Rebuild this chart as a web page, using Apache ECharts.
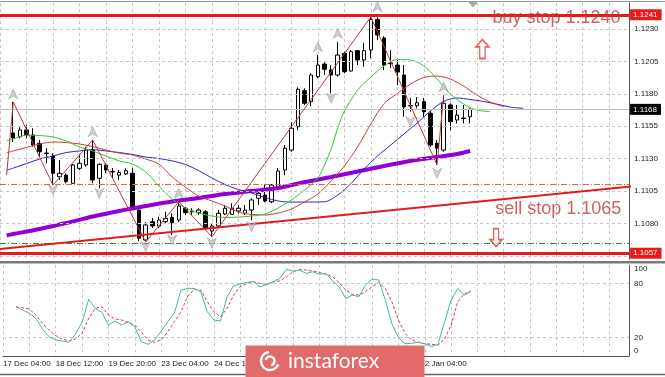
<!DOCTYPE html>
<html><head><meta charset="utf-8">
<script src="https://cdn.jsdelivr.net/npm/echarts@6/dist/echarts.min.js"></script>
<style>html,body{margin:0;padding:0;background:#fff}#c{width:665px;height:377px}</style>
</head><body><div id="c"></div>
<script>
// ---- data (bar index k = 0 is the first visible H4 candle) ----
const barOffset = 2; // x axis starts two bars before the first candle
const timeLabels = ['17 Dec 04:00','18 Dec 12:00','19 Dec 20:00','23 Dec 04:00','24 Dec 12:00','26 Dec 04:00','27 Dec 12:00','30 Dec 20:00','2 Jan 04:00'];
const priceTickStart = 1.1055, priceTickStep = 0.0025;
// [open, close, low, high]
const candles = [
[1.11498,1.11459,1.11428,1.11737],[1.11469,1.11521,1.11457,1.11542],[1.11521,1.11482,1.11457,1.11559],
[1.11482,1.11405,1.11392,1.11534],[1.11418,1.11353,1.11315,1.11444],[1.11343,1.11339,1.11264,1.11380],
[1.11320,1.11187,1.11096,1.11341],[1.11160,1.11187,1.11135,1.11289],[1.11173,1.11122,1.11109,1.11187],
[1.11109,1.11251,1.11108,1.11258],[1.11225,1.11264,1.11212,1.11328],[1.11251,1.11366,1.11238,1.11392],
[1.11366,1.11135,1.11109,1.11444],[1.11148,1.11256,1.11071,1.11264],[1.11251,1.11212,1.11187,1.11266],
[1.11200,1.11197,1.11148,1.11227],[1.11173,1.11194,1.11135,1.11212],[1.11181,1.11207,1.11173,1.11225],
[1.11187,1.10917,1.10903,1.11227],[1.10903,1.10685,1.10664,1.10919],[1.10672,1.10788,1.10657,1.10811],
[1.10813,1.10780,1.10765,1.10842],[1.10780,1.10826,1.10762,1.10852],[1.10813,1.10839,1.10801,1.10890],
[1.10847,1.10805,1.10711,1.10878],[1.10826,1.10934,1.10811,1.10967],[1.10917,1.10883,1.10865,1.10929],
[1.10890,1.10896,1.10865,1.10917],[1.10883,1.10903,1.10865,1.10917],[1.10890,1.10762,1.10749,1.10903],
[1.10741,1.10780,1.10697,1.10795],[1.10780,1.10878,1.10765,1.10903],[1.10873,1.10917,1.10865,1.10942],
[1.10870,1.10917,1.10865,1.10955],[1.10896,1.10917,1.10878,1.10942],[1.10878,1.10903,1.10865,1.10942],
[1.10903,1.10981,1.10826,1.10994],[1.10994,1.11032,1.10942,1.11058],[1.11019,1.10973,1.10963,1.11096],
[1.10967,1.11096,1.10957,1.11104],[1.11083,1.11204,1.11058,1.11227],[1.11212,1.11380,1.11173,1.11405],
[1.11366,1.11534,1.11353,1.11582],[1.11546,1.11835,1.11521,1.11850],[1.11824,1.11727,1.11714,1.11842],
[1.11739,1.11945,1.11706,1.11958],[1.11932,1.12022,1.11920,1.12099],[1.12030,1.11989,1.11945,1.12048],
[1.11984,1.11945,1.11804,1.12022],[1.11945,1.12099,1.11932,1.12202],[1.12112,1.11971,1.11958,1.12125],
[1.11976,1.12125,1.11971,1.12138],[1.12133,1.12061,1.12022,1.12138],[1.12061,1.12133,1.12009,1.12192],
[1.12138,1.12373,1.12074,1.12393],[1.12373,1.12254,1.12215,1.12389],[1.12231,1.12022,1.11984,1.12244],
[1.12038,1.12033,1.11999,1.12138],[1.12022,1.11968,1.11868,1.12061],[1.11945,1.11698,1.11623,1.12022],
[1.11706,1.11710,1.11662,1.11768],[1.11708,1.11731,1.11688,1.11775],[1.11739,1.11662,1.11623,1.11768],
[1.11650,1.11405,1.11390,1.11667],[1.11418,1.11380,1.11251,1.11444],[1.11366,1.11727,1.11353,1.11791],
[1.11714,1.11585,1.11521,1.11727],[1.11598,1.11636,1.11572,1.11714],[1.11613,1.11609,1.11572,1.11714],
[1.11623,1.11680,1.11572,1.11688]
];
// Alligator lines [bar, price]
const lips = [[-1,1.11440],[0,1.11451],[2,1.11482],[4,1.11478],[6,1.11467],[8,1.11436],[10,1.11390],[12,1.11359],[14,1.11320],[16,1.11282],[18,1.11258],[20,1.11197],[22,1.11089],[24,1.10988],[26,1.10919],[28,1.10880],[30,1.10857],[32,1.10846],[34,1.10849],[36,1.10857],[38,1.10873],[40,1.10919],[42,1.10981],[44,1.11058],[46,1.11150],[47,1.11251],[48,1.11374],[49,1.11536],[50,1.11667],[51,1.11752],[52,1.11829],[54,1.11930],[56,1.12015],[58,1.12065],[60,1.12061],[62,1.12015],[64,1.11914],[66,1.11798],[68,1.11721],[70,1.11675],[72,1.11663]];
const teeth = [[-1,1.11345],[0,1.11359],[2,1.11386],[4,1.11413],[6,1.11428],[8,1.11424],[10,1.11413],[12,1.11393],[14,1.11366],[16,1.11343],[18,1.11328],[20,1.11297],[22,1.11258],[24,1.11158],[26,1.11081],[28,1.11011],[30,1.10973],[32,1.10934],[34,1.10888],[36,1.10869],[38,1.10865],[40,1.10880],[42,1.10911],[44,1.10965],[46,1.11027],[48,1.11127],[50,1.11243],[52,1.11390],[54,1.11567],[56,1.11725],[58,1.11802],[60,1.11876],[62,1.11926],[64,1.11937],[66,1.11914],[68,1.11860],[70,1.11791],[72,1.11737],[74,1.11702]];
const jaw = [[-1,1.11210],[0,1.11227],[2,1.11262],[4,1.11297],[6,1.11320],[8,1.11347],[10,1.11359],[12,1.11370],[14,1.11359],[16,1.11347],[18,1.11332],[20,1.11312],[22,1.11301],[24,1.11282],[26,1.11255],[28,1.11208],[30,1.11150],[32,1.11100],[34,1.11062],[36,1.11035],[38,1.11000],[40,1.10973],[42,1.10965],[44,1.10965],[47,1.10967],[49,1.11019],[51,1.11108],[53,1.11220],[55,1.11320],[57,1.11405],[59,1.11490],[61,1.11575],[63,1.11667],[65,1.11741],[67,1.11768],[69,1.11756],[71,1.11741],[73,1.11721],[75,1.11698],[77,1.11688]];
const slowMA = [[-1,1.10708],[0,1.10718],[4,1.10757],[8,1.10803],[12,1.10853],[16,1.10896],[20,1.10934],[24,1.10969],[28,1.10996],[32,1.11027],[36,1.11050],[40,1.11073],[44,1.11119],[48,1.11158],[52,1.11200],[56,1.11243],[60,1.11282],[64,1.11312],[67,1.11335],[69,1.11359]];
const zigzag = [[-1,1.11173],[0,1.11737],[6,1.11096],[12,1.11444],[20,1.10657],[25,1.10967],[30,1.10697],[54,1.12393],[64,1.11251],[65,1.11791]];
const trendLine = [[-3,1.10597],[96,1.11099]];
const fractalUp = [[0,1.11798],[12,1.11508],[25,1.11032],[46,1.12163],[49,1.12267],[55,1.12472],[65,1.11855]];
const fractalDown = [[6,1.11058],[13,1.11032],[20,1.10620],[24,1.10672],[30,1.10649],[36,1.10775],[48,1.11765],[60,1.11585],[64,1.11187]];
// horizontal levels
const gridPrices = [1.1055,1.1080,1.1105,1.1130,1.1155,1.1180,1.1205,1.1230];
const buyStopLevel = 1.1241, sellLevel = 1.1057, bidPrice = 1.1168, orangeLevel = 1.1110, greenLevel = 1.1065;
// annotations [bar, price, text]
const notes = [[72.3,1.12381,'buy stop 1.1240'],[72.7,1.10911,'sell stop 1.1065']];
const upArrows = [[70.85,1.12146]];
const downArrows = [[72.92,1.10691]];
// Stochastic
const stochK = [54,50.5,46.9,41.3,29.5,21,17.4,16.3,14.9,24,37,62.3,52.4,48,34,38.4,34,37.6,32,15.5,12.7,17.4,27.3,37.6,46.9,72.5,74.4,74.4,70.7,48.6,39.5,38.4,65,77.3,79.5,81,82,76,78.8,81.7,85.4,95.7,93.5,94.6,91,92.7,90,91,82.8,76,63.4,67,65.2,78,84.7,83.6,61.9,35.8,20,13.3,13.8,14.9,13.3,10,12.7,37.6,61.5,74.4,67,71];
const stochD = [54,53,51.6,45,35.8,28.4,22.2,18.5,16.3,18.5,24.8,41.3,52.4,54.2,45,40.6,39.5,36.9,34,25.9,17.4,14.9,17.4,26.6,37.6,48.6,65.2,73.3,72.5,59.7,48.6,43,52.4,67,76.2,79.9,81.7,79.9,78.8,81.7,82.5,87.3,92.7,95.3,94.6,93.5,92,89.9,87.3,81,72.5,67.7,67,70.7,76.2,81,74.4,59.7,39.5,24.8,17.4,14.9,13.4,12.7,12,18.5,34,59.7,68.2,71.7];
const stochLevels = [20, 80];

// ---- build ----
const FONT = 'Liberation Sans, Arial, sans-serif';
const sx = a => a.map(([k,p]) => [k + barOffset, p]);
const gridDash = {color:'#c6c6c6', type:[3,3], width:1};
const tag = (txt, bg) => ({show:true, position:'end', distance:1, formatter:txt, color:'#fff', backgroundColor:bg,
  padding:[1,4,1,3], fontSize:8, lineHeight:9, fontFamily:FONT});
const upPath = 'path://M5,0 L10,10 L5,7 L0,10 Z';
const downPath = 'path://M0,0 L5,3 L10,0 L5,10 Z';
const bigUp = 'path://M6,0 L12,7 L8.5,7 L8.5,18 L3.5,18 L3.5,7 L0,7 Z';
const bigDown = 'path://M3.5,0 L8.5,0 L8.5,11 L12,11 L6,18 L0,11 L3.5,11 Z';

const chart = echarts.init(document.getElementById('c'), null, {renderer:'canvas'});
const gl = -10.26, gr = 35.9;
const option = {
  animation:false,
  backgroundColor:'#ffffff',
  textStyle:{fontFamily:FONT},
  grid:[
    {left:gl, right:gr, top:3.1, height:259.2},
    {left:gl, right:gr, top:265.2, height:90.6}
  ],
  xAxis:[
    {type:'value', gridIndex:0, min:0, max:95, interval:4,
     axisLine:{show:false, onZero:false}, axisTick:{show:false}, axisLabel:{show:false},
     splitLine:{show:true, lineStyle:gridDash}},
    {type:'value', gridIndex:1, min:0, max:95, interval:4,
     axisLine:{show:true, onZero:false, lineStyle:{color:'#555', width:1}}, axisTick:{show:false},
     axisLabel:{show:true, align:'left', margin:4, fontSize:8, color:'#222', fontFamily:FONT,
       formatter:v => { const i = Math.round(v); return (i % 8 === 0 && i/8 < timeLabels.length) ? timeLabels[i/8] : ''; }},
     splitLine:{show:true, lineStyle:gridDash}}
  ],
  yAxis:[
    {type:'value', gridIndex:0, position:'right', min:1.1050, max:1.1250, interval:0.0005,
     axisLine:{show:true, onZero:false, lineStyle:{color:'#555', width:1}}, axisTick:{show:false}, splitLine:{show:false},
     axisLabel:{margin:5, fontSize:8, color:'#222', fontFamily:FONT,
       formatter:v => { const n = (v - priceTickStart)/priceTickStep; return (v > priceTickStart - 1e-5 && Math.abs(n - Math.round(n)) < 1e-3) ? v.toFixed(4) : ''; }}},
    {type:'value', gridIndex:1, position:'right', min:0, max:100, interval:10,
     axisLine:{show:true, onZero:false, lineStyle:{color:'#555', width:1}}, axisTick:{show:false}, splitLine:{show:false},
     axisLabel:{margin:5, fontSize:8, color:'#222', fontFamily:FONT,
       formatter:v => v === 100 ? '{t|100}' : v === 0 ? '{b|0}' : (v === 20 || v === 80) ? String(v) : '',
       rich:{t:{padding:[8,0,0,0], fontSize:8, color:'#222', fontFamily:FONT}, b:{padding:[0,0,10,0], fontSize:8, color:'#222', fontFamily:FONT}}}}
  ],
  series:[
    {type:'line', xAxisIndex:0, yAxisIndex:0, data:[], clip:false, silent:true, z:1,
     markLine:{silent:true, symbol:['none','none'], animation:false, precision:5, data:[
       ...gridPrices.map(p => ({yAxis:p, lineStyle:gridDash, label:{show:false}})),
       {yAxis:bidPrice, lineStyle:{color:'#c0c0c0', type:'solid', width:1}, label:tag('1.1168','#000000')},
       {yAxis:orangeLevel, lineStyle:{color:'#e8643c', type:[6,2,1,2], width:1}, label:{show:false}},
       {yAxis:greenLevel, lineStyle:{color:'#2e8f2e', type:[6,2,1,2], width:1}, label:{show:false}},
       {yAxis:buyStopLevel, lineStyle:{color:'#e8191b', type:'solid', width:3}, label:tag('1.1241','#e8191b')},
       {yAxis:sellLevel, lineStyle:{color:'#e8191b', type:'solid', width:3}, label:tag('1.1057','#e8191b')}
     ]}},
    {type:'candlestick', xAxisIndex:0, yAxisIndex:0, z:3, barWidth:4,
     data:candles.map((c,i) => [i + barOffset, c[0], c[1], c[2], c[3]]),
     itemStyle:{color:'#ffffff', color0:'#000000', borderColor:'#000000', borderColor0:'#000000', borderColorDoji:'#000000', borderWidth:1}},
    {type:'line', xAxisIndex:0, yAxisIndex:0, z:4, data:sx(slowMA), symbol:'none', smooth:0.3, lineStyle:{color:'#9400d3', width:4}},
    {type:'line', xAxisIndex:0, yAxisIndex:0, z:4, data:sx(jaw), symbol:'none', smooth:0.3, lineStyle:{color:'#2828c0', width:1}},
    {type:'line', xAxisIndex:0, yAxisIndex:0, z:4, data:sx(teeth), symbol:'none', smooth:0.3, lineStyle:{color:'#d03c3c', width:1}},
    {type:'line', xAxisIndex:0, yAxisIndex:0, z:4, data:sx(lips), symbol:'none', smooth:0.3, lineStyle:{color:'#2ec82e', width:1}},
    {type:'line', xAxisIndex:0, yAxisIndex:0, z:5, data:sx(zigzag), symbol:'none', lineStyle:{color:'#b83c3c', width:1}},
    {type:'line', xAxisIndex:0, yAxisIndex:0, z:5, data:sx(trendLine), symbol:'none', lineStyle:{color:'#e8191b', width:2}},
    {type:'scatter', xAxisIndex:0, yAxisIndex:0, z:6, data:sx(fractalUp), symbol:upPath, symbolSize:[9,10],
     itemStyle:{color:'#c4c4c4', borderColor:'#8c8c8c', borderWidth:0.6}},
    {type:'scatter', xAxisIndex:0, yAxisIndex:0, z:6, data:sx(fractalDown), symbol:downPath, symbolSize:[9,10],
     itemStyle:{color:'#c4c4c4', borderColor:'#8c8c8c', borderWidth:0.6}},
    {type:'scatter', xAxisIndex:0, yAxisIndex:0, z:7, data:sx(upArrows), symbol:bigUp, symbolSize:[13,19],
     itemStyle:{color:'#ffffff', borderColor:'#e8352d', borderWidth:1.5}},
    {type:'scatter', xAxisIndex:0, yAxisIndex:0, z:7, data:sx(downArrows), symbol:bigDown, symbolSize:[12,18],
     itemStyle:{color:'#ffffff', borderColor:'#e8352d', borderWidth:1.5}},
    {type:'scatter', xAxisIndex:0, yAxisIndex:0, z:8, symbolSize:1, itemStyle:{color:'rgba(0,0,0,0)'},
     data:notes.map(([k,p,t]) => ({value:[k + barOffset, p], name:t})),
     label:{show:true, position:'right', distance:0, formatter:'{b}', fontSize:18, color:'#bf3a3a', fontFamily:FONT}},
    {type:'line', xAxisIndex:1, yAxisIndex:1, data:[], clip:false, silent:true, z:1,
     markLine:{silent:true, symbol:['none','none'], animation:false, precision:2,
       data:stochLevels.map(v => ({yAxis:v, lineStyle:gridDash, label:{show:false}}))}},
    {type:'line', xAxisIndex:1, yAxisIndex:1, z:4, data:stochD.map((v,i) => [i + barOffset, v]), symbol:'none',
     lineStyle:{color:'#d04040', width:1, type:[3,2]}},
    {type:'line', xAxisIndex:1, yAxisIndex:1, z:5, data:stochK.map((v,i) => [i + barOffset, v]), symbol:'none',
     lineStyle:{color:'#45b5ae', width:1}}
  ],
  graphic:[
    {type:'line', z:50, shape:{x1:0, y1:1.5, x2:665, y2:1.5}, style:{stroke:'#9a9a9a', lineWidth:1}},
    {type:'rect', z:50, shape:{x:0, y:259.5, width:665, height:1.5}, style:{fill:'#ffffff'}},
    {type:'rect', z:50, shape:{x:0, y:261, width:665, height:2.5}, style:{fill:'#7a7a7a'}},
    {type:'line', z:50, shape:{x1:0, y1:374.5, x2:665, y2:374.5}, style:{stroke:'#666666', lineWidth:1.5}},
    {type:'polygon', z:50, shape:{points:[[468,2],[478,2],[473,7.5]]}, style:{fill:'#a8a8a8'}},
    {type:'rect', z:100, shape:{x:245.5, y:345.5, width:179, height:32}, style:{fill:'#e16b6b'}},
    {type:'arc', z:101, shape:{cx:270, cy:361, r:9, startAngle:0.4, endAngle:4.6}, style:{stroke:'#ffffff', lineWidth:2.5, fill:null}},
    {type:'arc', z:101, shape:{cx:270, cy:361, r:4.5, startAngle:3.4, endAngle:7.6}, style:{stroke:'#ffffff', lineWidth:2.5, fill:null}},
    {type:'text', z:101, style:{text:'instaforex', x:288, y:361, fill:'#ffffff', fontSize:21, fontFamily:'Lato, sans-serif', verticalAlign:'middle', align:'left'}}
  ]
};
chart.setOption(option);
</script></body></html>
